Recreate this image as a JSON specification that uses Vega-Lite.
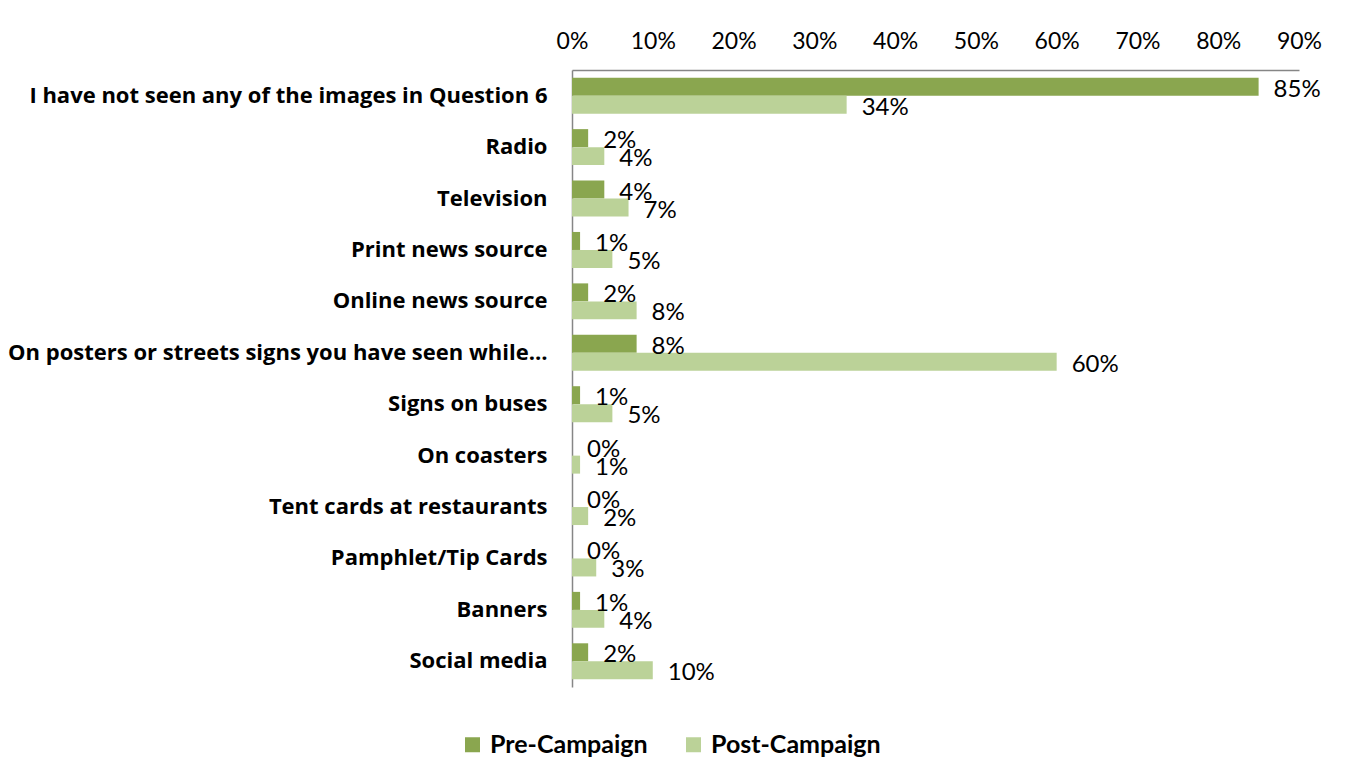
{
  "$schema": "https://vega.github.io/schema/vega-lite/v6.json",
  "width": 727,
  "height": 617,
  "autosize": {"type": "none"},
  "padding": {"left": 572, "top": 70, "right": 52, "bottom": 95},
  "background": "white",
  "config": {"view": {"stroke": null}, "font": "Lato"},
  "data": {
    "values": [
      {"category": "I have not seen any of the images in Question 6", "series": "Pre-Campaign", "value": 0.85},
      {"category": "I have not seen any of the images in Question 6", "series": "Post-Campaign", "value": 0.34},
      {"category": "Radio", "series": "Pre-Campaign", "value": 0.02},
      {"category": "Radio", "series": "Post-Campaign", "value": 0.04},
      {"category": "Television", "series": "Pre-Campaign", "value": 0.04},
      {"category": "Television", "series": "Post-Campaign", "value": 0.07},
      {"category": "Print news source", "series": "Pre-Campaign", "value": 0.01},
      {"category": "Print news source", "series": "Post-Campaign", "value": 0.05},
      {"category": "Online news source", "series": "Pre-Campaign", "value": 0.02},
      {"category": "Online news source", "series": "Post-Campaign", "value": 0.08},
      {"category": "On posters or streets signs you have seen while…", "series": "Pre-Campaign", "value": 0.08},
      {"category": "On posters or streets signs you have seen while…", "series": "Post-Campaign", "value": 0.60},
      {"category": "Signs on buses", "series": "Pre-Campaign", "value": 0.01},
      {"category": "Signs on buses", "series": "Post-Campaign", "value": 0.05},
      {"category": "On coasters", "series": "Pre-Campaign", "value": 0.0},
      {"category": "On coasters", "series": "Post-Campaign", "value": 0.01},
      {"category": "Tent cards at restaurants", "series": "Pre-Campaign", "value": 0.0},
      {"category": "Tent cards at restaurants", "series": "Post-Campaign", "value": 0.02},
      {"category": "Pamphlet/Tip Cards", "series": "Pre-Campaign", "value": 0.0},
      {"category": "Pamphlet/Tip Cards", "series": "Post-Campaign", "value": 0.03},
      {"category": "Banners", "series": "Pre-Campaign", "value": 0.01},
      {"category": "Banners", "series": "Post-Campaign", "value": 0.04},
      {"category": "Social media", "series": "Pre-Campaign", "value": 0.02},
      {"category": "Social media", "series": "Post-Campaign", "value": 0.10}
    ]
  },
  "encoding": {
    "y": {
      "field": "category",
      "type": "nominal",
      "sort": null,
      "scale": {"paddingInner": 0.3, "paddingOuter": 0.15},
      "axis": {
        "title": null,
        "ticks": false,
        "domainColor": "#868686",
        "domainWidth": 1.5,
        "labelFont": "Open Sans",
        "labelFontWeight": "bold",
        "labelFontSize": 22,
        "labelColor": "black",
        "labelPadding": 25,
        "labelLimit": 0
      }
    },
    "yOffset": {"field": "series", "sort": ["Pre-Campaign", "Post-Campaign"]},
    "x": {
      "field": "value",
      "type": "quantitative",
      "scale": {"domain": [0, 0.9], "nice": false},
      "axis": {
        "orient": "top",
        "title": null,
        "grid": false,
        "ticks": false,
        "labelFlush": false,
        "domainColor": "#868686",
        "domainWidth": 1.5,
        "values": [0, 0.1, 0.2, 0.3, 0.4, 0.5, 0.6, 0.7, 0.8, 0.9],
        "format": ".0%",
        "labelFont": "Lato",
        "labelFontSize": 23,
        "labelColor": "black",
        "labelPadding": 17
      }
    }
  },
  "layer": [
    {
      "mark": {"type": "bar"},
      "encoding": {
        "color": {
          "field": "series",
          "type": "nominal",
          "scale": {"domain": ["Pre-Campaign", "Post-Campaign"], "range": ["#8AA64F", "#BBD298"]},
          "legend": {
            "orient": "none",
            "legendX": -112,
            "legendY": 662,
            "direction": "horizontal",
            "title": null,
            "symbolType": "square",
            "symbolSize": 225,
            "symbolStrokeWidth": 0,
            "symbolOpacity": 1,
            "labelFont": "Lato",
            "labelFontSize": 25,
            "labelFontWeight": "bold",
            "labelColor": "black",
            "labelOffset": 5,
            "labelLimit": 0,
            "columnPadding": 33,
            "padding": 0
          }
        }
      }
    },
    {
      "mark": {"type": "text", "align": "left", "baseline": "middle", "dx": 15, "dy": 3, "fontSize": 24, "font": "Lato", "color": "black"},
      "encoding": {
        "text": {"field": "value", "type": "quantitative", "format": ".0%"}
      }
    }
  ]
}
